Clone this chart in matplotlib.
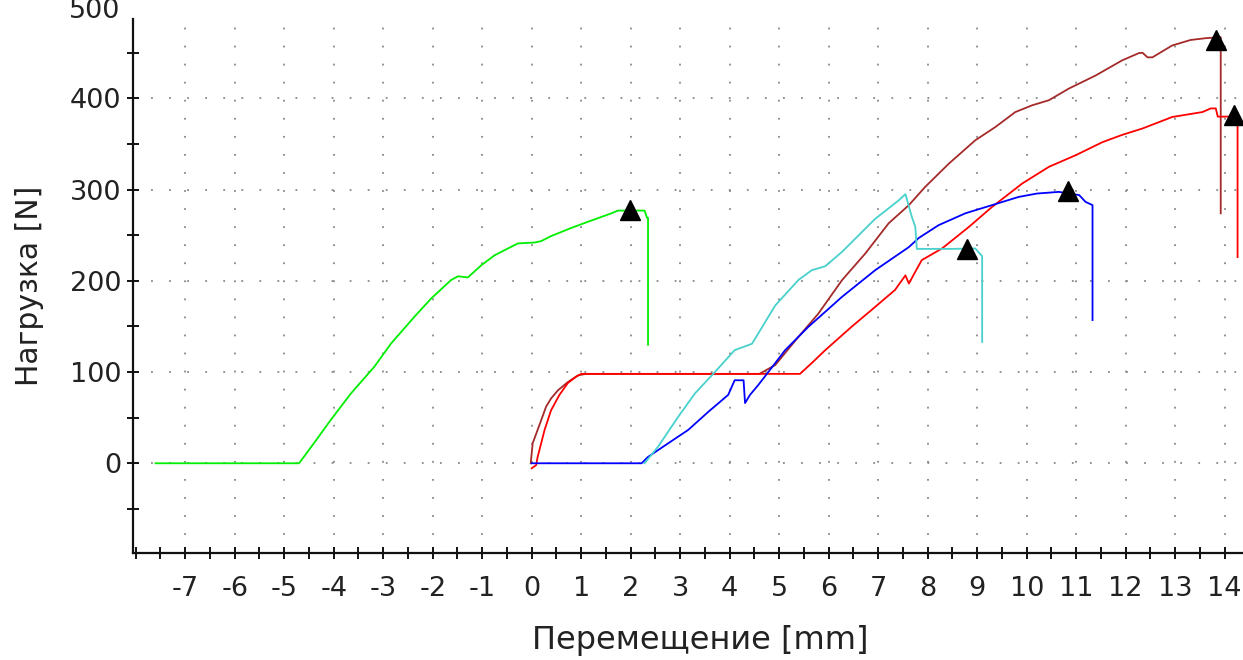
import matplotlib
matplotlib.use("Agg")
import matplotlib.pyplot as plt
from matplotlib.ticker import MultipleLocator, FixedLocator

plt.rcParams["axes.unicode_minus"] = False

# Load vs. displacement curves (mm, N)
green_x = [-7.6, -4.7, -4.4, -4.06, -3.65, -3.18, -2.84, -2.37, -2.03, -1.63, -1.49,
           -1.29, -1.02, -0.75, -0.48, -0.28, 0.06, 0.19, 0.39, 0.8, 1.2, 1.61, 1.74,
           2.28, 2.33, 2.35, 2.35]
green_y = [0, 0, 22, 47.5, 76.7, 105.8, 131.4, 160.6, 180.7, 200.8, 205,
           203.7, 217, 228, 235.5, 241, 242, 243.5, 249, 258, 266, 274, 277,
           277, 269, 269, 130]

brown_x = [-0.02, 0.02, 0.19, 0.29, 0.39, 0.53, 0.73, 0.94, 1.1, 4.6, 4.92, 5.39, 5.79,
           6.27, 6.74, 7.21, 7.62, 7.95, 8.43, 8.96, 9.37, 9.77, 10.11, 10.45, 10.85,
           11.39, 11.93, 12.27, 12.34, 12.44, 12.54, 12.94, 13.31, 13.62, 13.92, 13.92]
brown_y = [0, 22, 47, 62, 71, 80, 89, 96.5, 98, 98, 107.7, 138.7, 164,
           200.8, 230, 263, 283, 303, 328.6, 354, 368.7, 385, 392.4, 398, 410.7,
           425, 441.7, 449.7, 450, 445, 445, 458, 464, 466, 467, 274]

red_x = [0.0, 0.09, 0.12, 0.26, 0.39, 0.56, 0.73, 0.9, 1.0, 5.42, 5.66, 5.93, 6.47,
         6.94, 7.34, 7.55, 7.62, 7.75, 7.88, 8.29, 8.83, 9.3, 9.91, 10.45, 10.99,
         11.53, 11.93, 12.34, 12.94, 13.55, 13.72, 13.82, 13.86, 14.26, 14.26]
red_y = [-5.5, -2, 7, 36.5, 58, 75, 88, 95, 98, 98, 110, 124, 150,
         171.5, 190, 206, 197, 210, 222.7, 235.5, 259, 281, 306.7, 325, 337.7,
         352, 360, 367, 379.6, 385, 389, 389, 380, 380, 226]

blue_x = [0.0, 2.22, 2.35, 2.76, 3.16, 3.57, 3.97, 4.1, 4.28, 4.31, 4.41, 4.58, 4.78,
          5.12, 5.59, 6.27, 6.94, 7.62, 7.82, 8.22, 8.76, 9.3, 9.84, 10.21,
          10.65, 11.06, 11.19, 11.33, 11.33]
blue_y = [0, 0, 7, 22, 36.5, 56.5, 75, 91, 91, 66, 75, 86, 100,
          124, 149.6, 182.5, 211.7, 237, 247, 261, 274, 283, 292, 295.7,
          297.5, 294, 286.5, 283, 157]

cyan_x = [2.28, 2.55, 2.96, 3.3, 3.7, 4.1, 4.45, 4.92, 5.39, 5.66, 5.93, 6.27, 6.94,
          7.41, 7.55, 7.68, 7.75, 7.78, 8.49, 8.96, 9.1, 9.1]
cyan_y = [0, 18, 51, 76.7, 100, 124, 131, 173, 201, 211.7, 216, 231.8, 268,
          288, 295, 270, 259, 235, 235, 235.5, 227, 133]

# Peak markers
peak_x = [1.98, 13.82, 14.19, 10.84, 8.80]
peak_y = [278, 464, 382, 298, 235]

x_ticks = list(range(-7, 15))
y_ticks = [0, 100, 200, 300, 400]
top_label = "500"

fig = plt.figure(figsize=(12.43, 6.60), dpi=100)
ax = fig.add_axes([0.1072, 0.1626, 0.8928, 0.8086])

lw = 1.3
ax.plot(green_x, green_y, color="#00ee00", lw=lw, zorder=3)
ax.plot(brown_x, brown_y, color="#a52a2a", lw=lw, zorder=3)
ax.plot(red_x, red_y, color="#ff0000", lw=lw, zorder=3)
ax.plot(blue_x, blue_y, color="#0000ff", lw=lw, zorder=3)
ax.plot(cyan_x, cyan_y, color="#48d1cc", lw=lw, zorder=3)
ax.plot(peak_x, peak_y, linestyle="none", marker="^", ms=14, color="black",
        clip_on=False, zorder=4)

ax.set_xlim(-8.05, 14.37)
ax.set_ylim(-98, 487)

ax.xaxis.set_major_locator(FixedLocator(x_ticks))
ax.xaxis.set_minor_locator(MultipleLocator(0.5))
ax.yaxis.set_major_locator(FixedLocator(y_ticks))
ax.yaxis.set_minor_locator(MultipleLocator(50))

for s in ["top", "right"]:
    ax.spines[s].set_visible(False)
for s in ["left", "bottom"]:
    ax.spines[s].set_linewidth(1.6)
    ax.spines[s].set_color("#111111")

ax.tick_params(axis="both", which="both", direction="inout", length=9, width=1.4,
               color="#111111", labelsize=19.5, labelcolor="#222222")
ax.tick_params(axis="x", which="major", pad=12)
ax.tick_params(axis="y", which="major", pad=4)

ax.grid(which="major", linestyle=(0, (1, 9)), color="#888888", lw=1.3)
ax.set_axisbelow(True)

# label of the topmost gridline, sitting just above the plotted range
ax.text(-0.012, 496, top_label, transform=ax.get_yaxis_transform(), ha="right",
        va="center", fontsize=19.5, color="#222222", clip_on=False)

ax.set_xlabel("Перемещение [mm]", fontsize=23, color="#222222")
ax.xaxis.set_label_coords(0.511, -0.135)
ax.set_ylabel("Нагрузка [N]", fontsize=21.5, color="#222222")
ax.yaxis.set_label_coords(-0.08, 0.5)

fig.savefig("out.png", dpi=100)
